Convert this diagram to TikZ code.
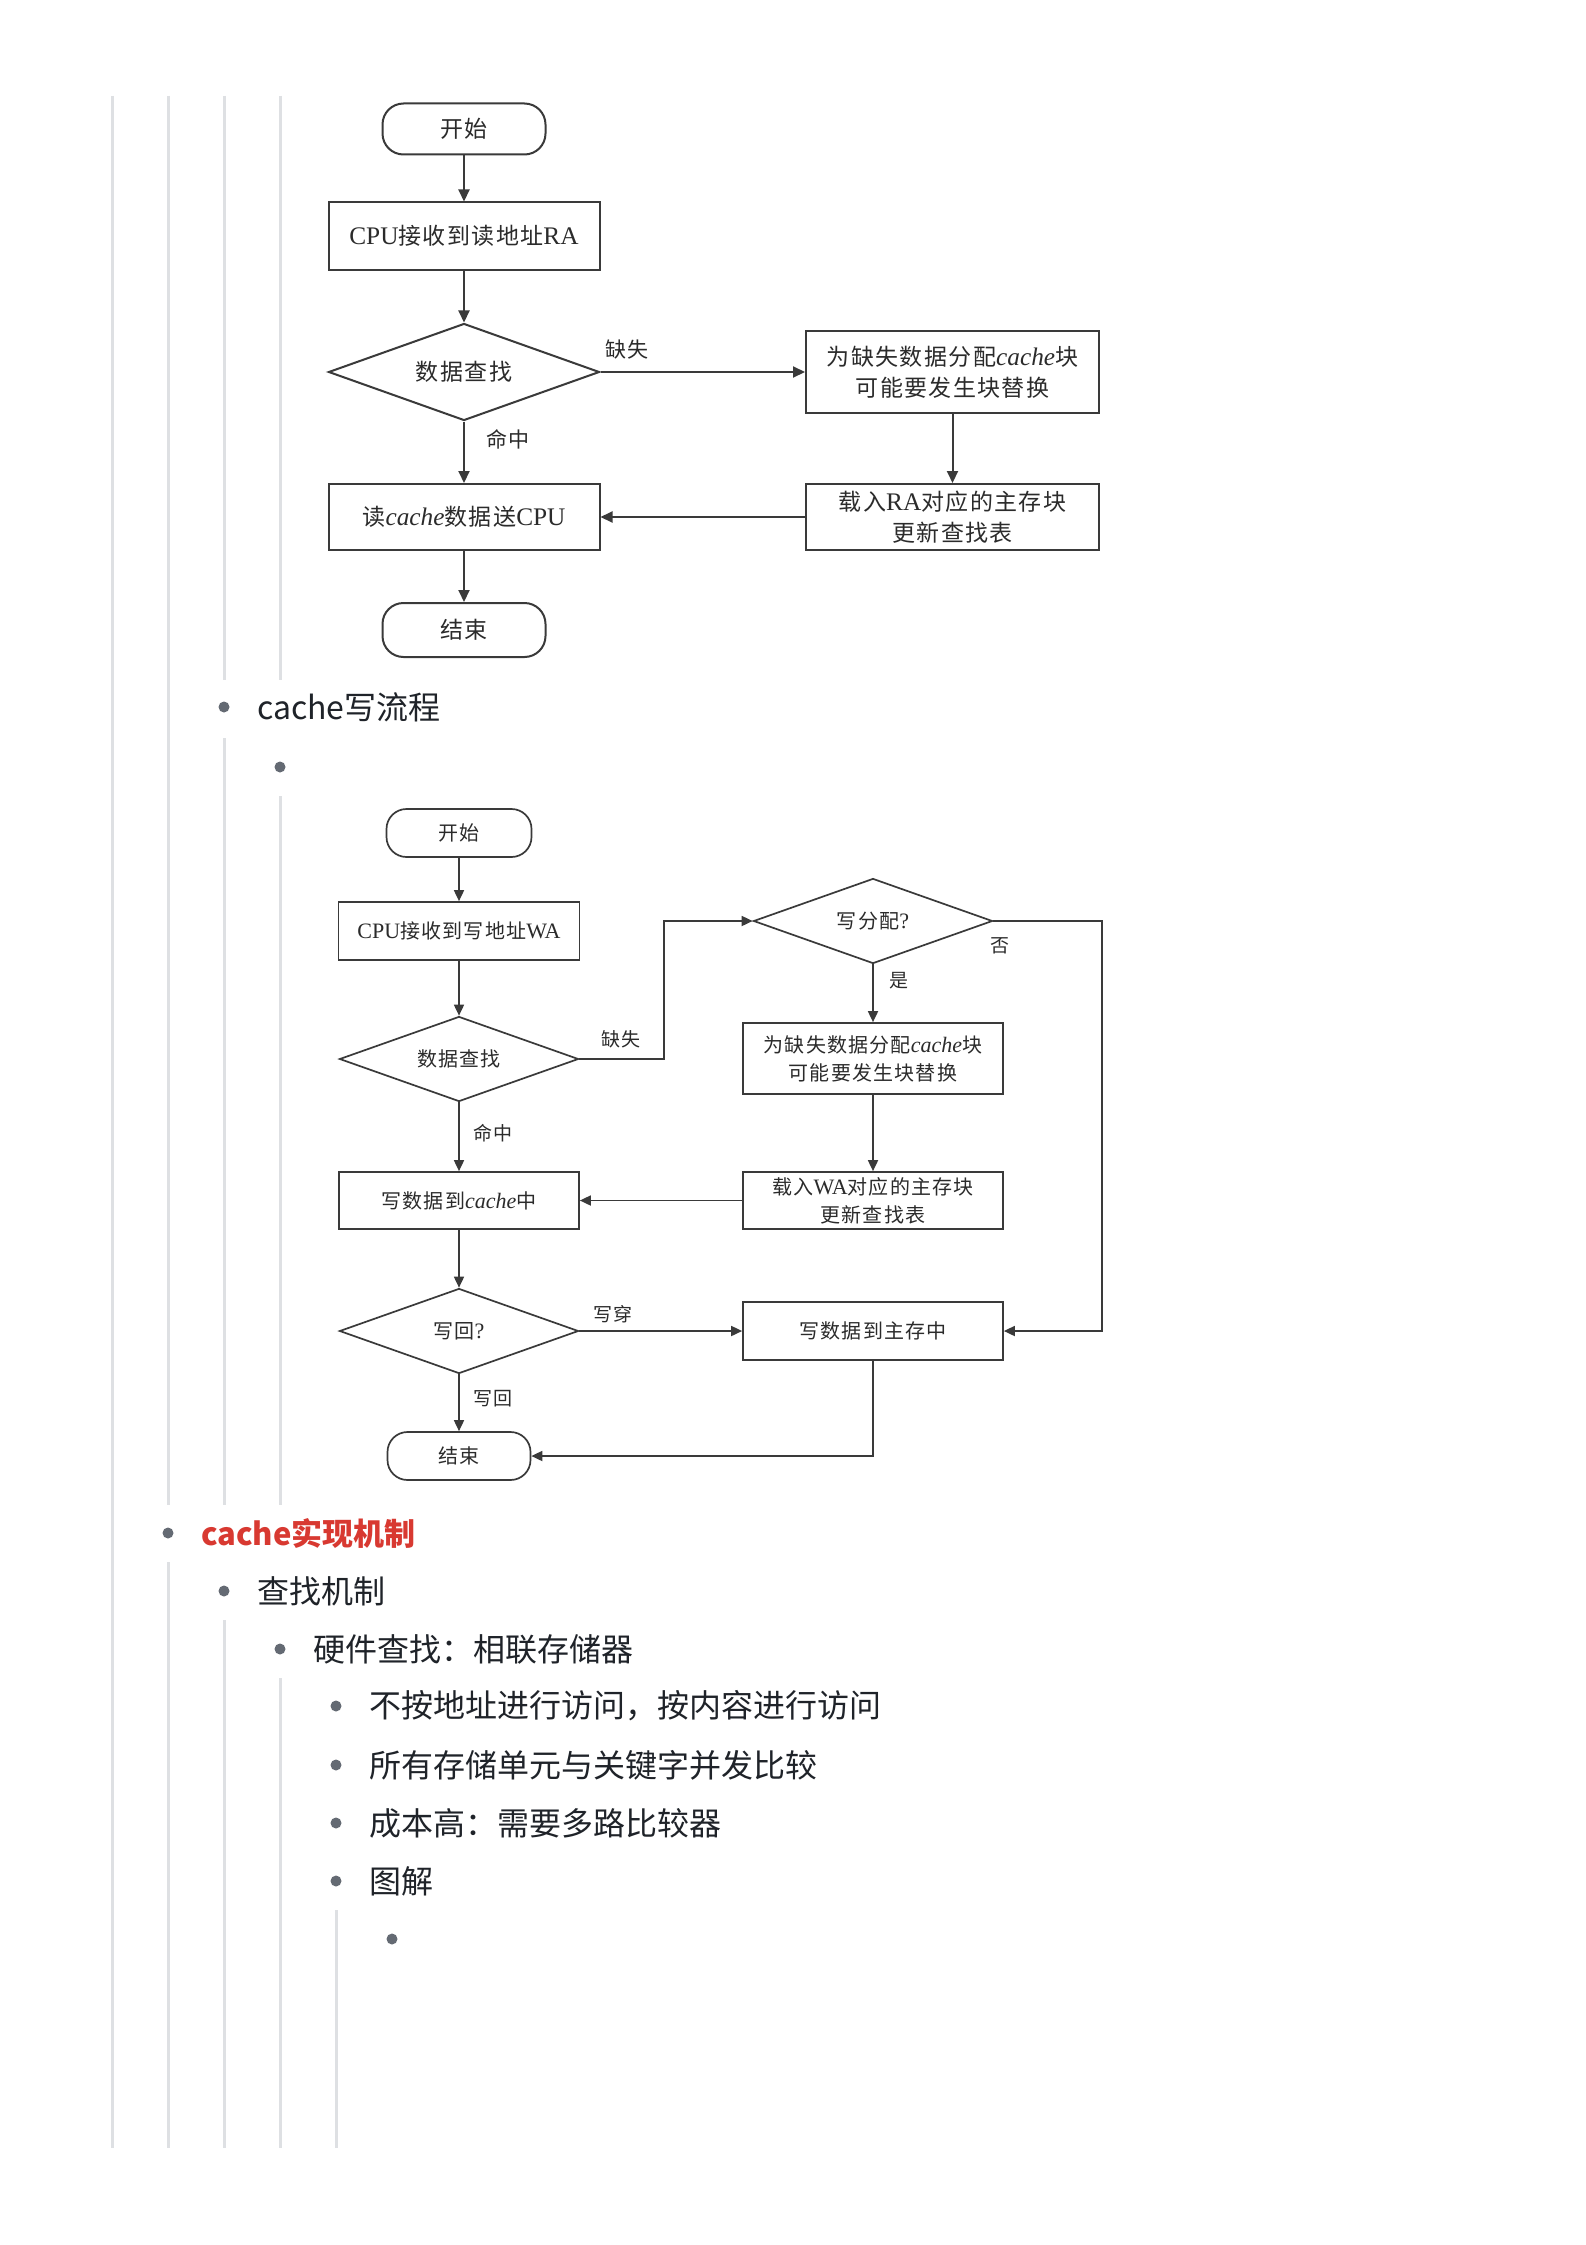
\documentclass[tikz,border=0pt]{standalone}
\usepackage{fontspec}
\setmainfont{Noto Sans CJK SC}
\newfontfamily\lat[Scale=1.1]{Liberation Serif}
\newfontfamily\fc[LetterSpace=6]{Noto Sans CJK SC}
\usetikzlibrary{arrows.meta,shapes.geometric}
\definecolor{guide}{HTML}{DEE0E3}
\definecolor{bul}{HTML}{646A73}
\definecolor{txt}{HTML}{1F2329}
\definecolor{redt}{HTML}{D83931}
\definecolor{fl}{HTML}{3A3A3A}
\definecolor{ft}{HTML}{2B2B2B}
\begin{document}
\begin{tikzpicture}[x=1pt,y=-1pt,
  guideline/.style={draw=guide,line width=3pt},
  bulletdot/.style={circle,fill=bul,inner sep=0pt,minimum size=11pt},
  listtext/.style={anchor=west,inner sep=0pt,text=txt,font=\fontsize{32}{36}\selectfont},
  rfont/.style={text=ft,font=\fc\fontsize{23}{31}\selectfont},
  wfont/.style={text=ft,font=\fc\fontsize{20}{28}\selectfont},
  rbox/.style={rfont,draw=fl,line width=2pt,rectangle,inner sep=0pt,align=center},
  wbox/.style={wfont,draw=fl,line width=1.7pt,rectangle,inner sep=0pt,align=center},
  rterm/.style={rbox,rounded corners=21pt},
  wterm/.style={wbox,rounded corners=20pt},
  rdiam/.style={rfont,draw=fl,line width=2pt,diamond,aspect=3,inner sep=0pt},
  wdiam/.style={wfont,draw=fl,line width=1.7pt,diamond,aspect=3,inner sep=0pt},
  rarrow/.style={draw=fl,line width=2pt,-{Triangle[length=12pt,width=11pt]}},
  warrow/.style={draw=fl,line width=1.7pt,-{Triangle[length=11pt,width=10pt]}},
  rlabel/.style={text=ft,inner sep=0pt,font=\fc\fontsize{21}{24}\selectfont},
  wlabel/.style={text=ft,inner sep=0pt,font=\fc\fontsize{19}{22}\selectfont}
]
\useasboundingbox[fill=white] (0,0) rectangle (1586,2245);

% guide lines
\draw[guideline] (112,96) -- (112,2148);
\draw[guideline] (168,96) -- (168,1505);
\draw[guideline] (168,1562) -- (168,2148);
\draw[guideline] (224,96) -- (224,680);
\draw[guideline] (224,738) -- (224,1505);
\draw[guideline] (224,1620) -- (224,2148);
\draw[guideline] (280,96) -- (280,680);
\draw[guideline] (280,796) -- (280,1505);
\draw[guideline] (280,1678) -- (280,2148);
\draw[guideline] (336,1910) -- (336,2148);

% ---------- read flowchart ----------
\node[rterm,minimum width=163pt,minimum height=51pt] (rs) at (464,129) {开始};
\node[rbox,minimum width=271pt,minimum height=67pt] (rcpu) at (464,236) {{\lat CPU}接收到读地址{\lat RA}};
\node[rdiam,minimum width=271pt,minimum height=97pt] (rdia) at (464,372) {数据查找};
\node[rbox,minimum width=293pt,minimum height=82pt] (ralloc) at (952.5,372) {为缺失数据分配{\lat\itshape cache}块\\可能要发生块替换};
\node[rbox,minimum width=293pt,minimum height=66pt] (rload) at (952.5,517) {载入{\lat RA}对应的主存块\\更新查找表};
\node[rbox,minimum width=271pt,minimum height=66pt] (rread) at (464,517) {读{\lat\itshape cache}数据送{\lat CPU}};
\node[rterm,minimum width=163pt,minimum height=54pt] (rend) at (464,630) {结束};

\draw[rarrow] (rs) -- (rcpu);
\draw[rarrow] (rcpu) -- (rdia);
\draw[rarrow] (rdia) -- (ralloc);
\draw[rarrow] (ralloc) -- (rload);
\draw[rarrow] (rload) -- (rread);
\draw[rarrow] (rdia) -- (rread);
\draw[rarrow] (rread) -- (rend);
\node[rlabel] (rlmiss) at (627,350) {缺失};
\node[rlabel] (rlhit) at (508,439) {命中};

% ---------- list items ----------
\node[bulletdot] (b1) at (224,707) {};
\node[listtext] (t1) at (257,707) {cache写流程};
\node[bulletdot] (b2) at (280,767) {};

% ---------- write flowchart ----------
\node[wterm,minimum width=145pt,minimum height=48pt] (ws) at (459,833) {开始};
\node[wbox,minimum width=241pt,minimum height=58pt] (wcpu) at (459,931) {{\lat CPU}接收到写地址{\lat WA}};
\node[wdiam,minimum width=239pt,minimum height=85pt] (wdia) at (459,1059) {数据查找};
\node[wdiam,minimum width=239pt,minimum height=85pt] (wq) at (873,921) {写分配{\lat ?}};
\node[wbox,minimum width=260pt,minimum height=71pt] (walloc) at (873,1058.5) {为缺失数据分配{\lat\itshape cache}块\\可能要发生块替换};
\node[wbox,minimum width=260pt,minimum height=57pt] (wload) at (873,1200.5) {载入{\lat WA}对应的主存块\\更新查找表};
\node[wbox,minimum width=240pt,minimum height=57pt] (wcache) at (459,1200.5) {写数据到{\lat\itshape cache}中};
\node[wdiam,minimum width=239pt,minimum height=85pt] (wback) at (459,1331) {写回{\lat ?}};
\node[wbox,minimum width=260pt,minimum height=58pt] (wmem) at (873,1331) {写数据到主存中};
\node[wterm,minimum width=143pt,minimum height=48pt] (wend) at (459,1456) {结束};

\coordinate (wmiss) at (664,1059);
\coordinate (wno) at (1102,921);

\draw[warrow] (ws) -- (wcpu);
\draw[warrow] (wcpu) -- (wdia);
\draw[warrow] (wdia.east) -- (wmiss) |- (wq.west);
\draw[warrow] (wq) -- (walloc);
\draw[warrow] (walloc) -- (wload);
\draw[warrow] (wload) -- (wcache);
\draw[warrow] (wdia) -- (wcache);
\draw[warrow] (wcache) -- (wback);
\draw[warrow] (wback) -- (wmem);
\draw[warrow] (wq.east) -- (wno) |- (wmem.east);
\draw[warrow] (wback) -- (wend);
\draw[warrow] (wmem.south) |- (wend.east);

\node[wlabel] (wlmiss) at (621,1039) {缺失};
\node[wlabel] (wlhit) at (493,1133) {命中};
\node[wlabel] (wlno) at (1000,946) {否};
\node[wlabel] (wlyes) at (899,981) {是};
\node[wlabel] (wlthru) at (613,1314) {写穿};
\node[wlabel] (wlback) at (493,1399) {写回};

% ---------- lower list ----------
\node[bulletdot] (b3) at (168,1533) {};
\node[listtext,text=redt,font=\bfseries\fontsize{31}{36}\selectfont] (t3) at (201,1533) {cache实现机制};
\node[bulletdot] (b4) at (224,1591) {};
\node[listtext] (t4) at (257,1591) {查找机制};
\node[bulletdot] (b5) at (280,1649) {};
\node[listtext] (t5) at (313,1649) {硬件查找：相联存储器};
\node[bulletdot] (b6) at (336,1706) {};
\node[listtext] (t6) at (369,1706) {不按地址进行访问，按内容进行访问};
\node[bulletdot] (b7) at (336,1765) {};
\node[listtext] (t7) at (369,1765) {所有存储单元与关键字并发比较};
\node[bulletdot] (b8) at (336,1823) {};
\node[listtext] (t8) at (369,1823) {成本高：需要多路比较器};
\node[bulletdot] (b9) at (336,1881) {};
\node[listtext] (t9) at (369,1881) {图解};
\node[bulletdot] (b10) at (392,1939) {};
\end{tikzpicture}
\end{document}
